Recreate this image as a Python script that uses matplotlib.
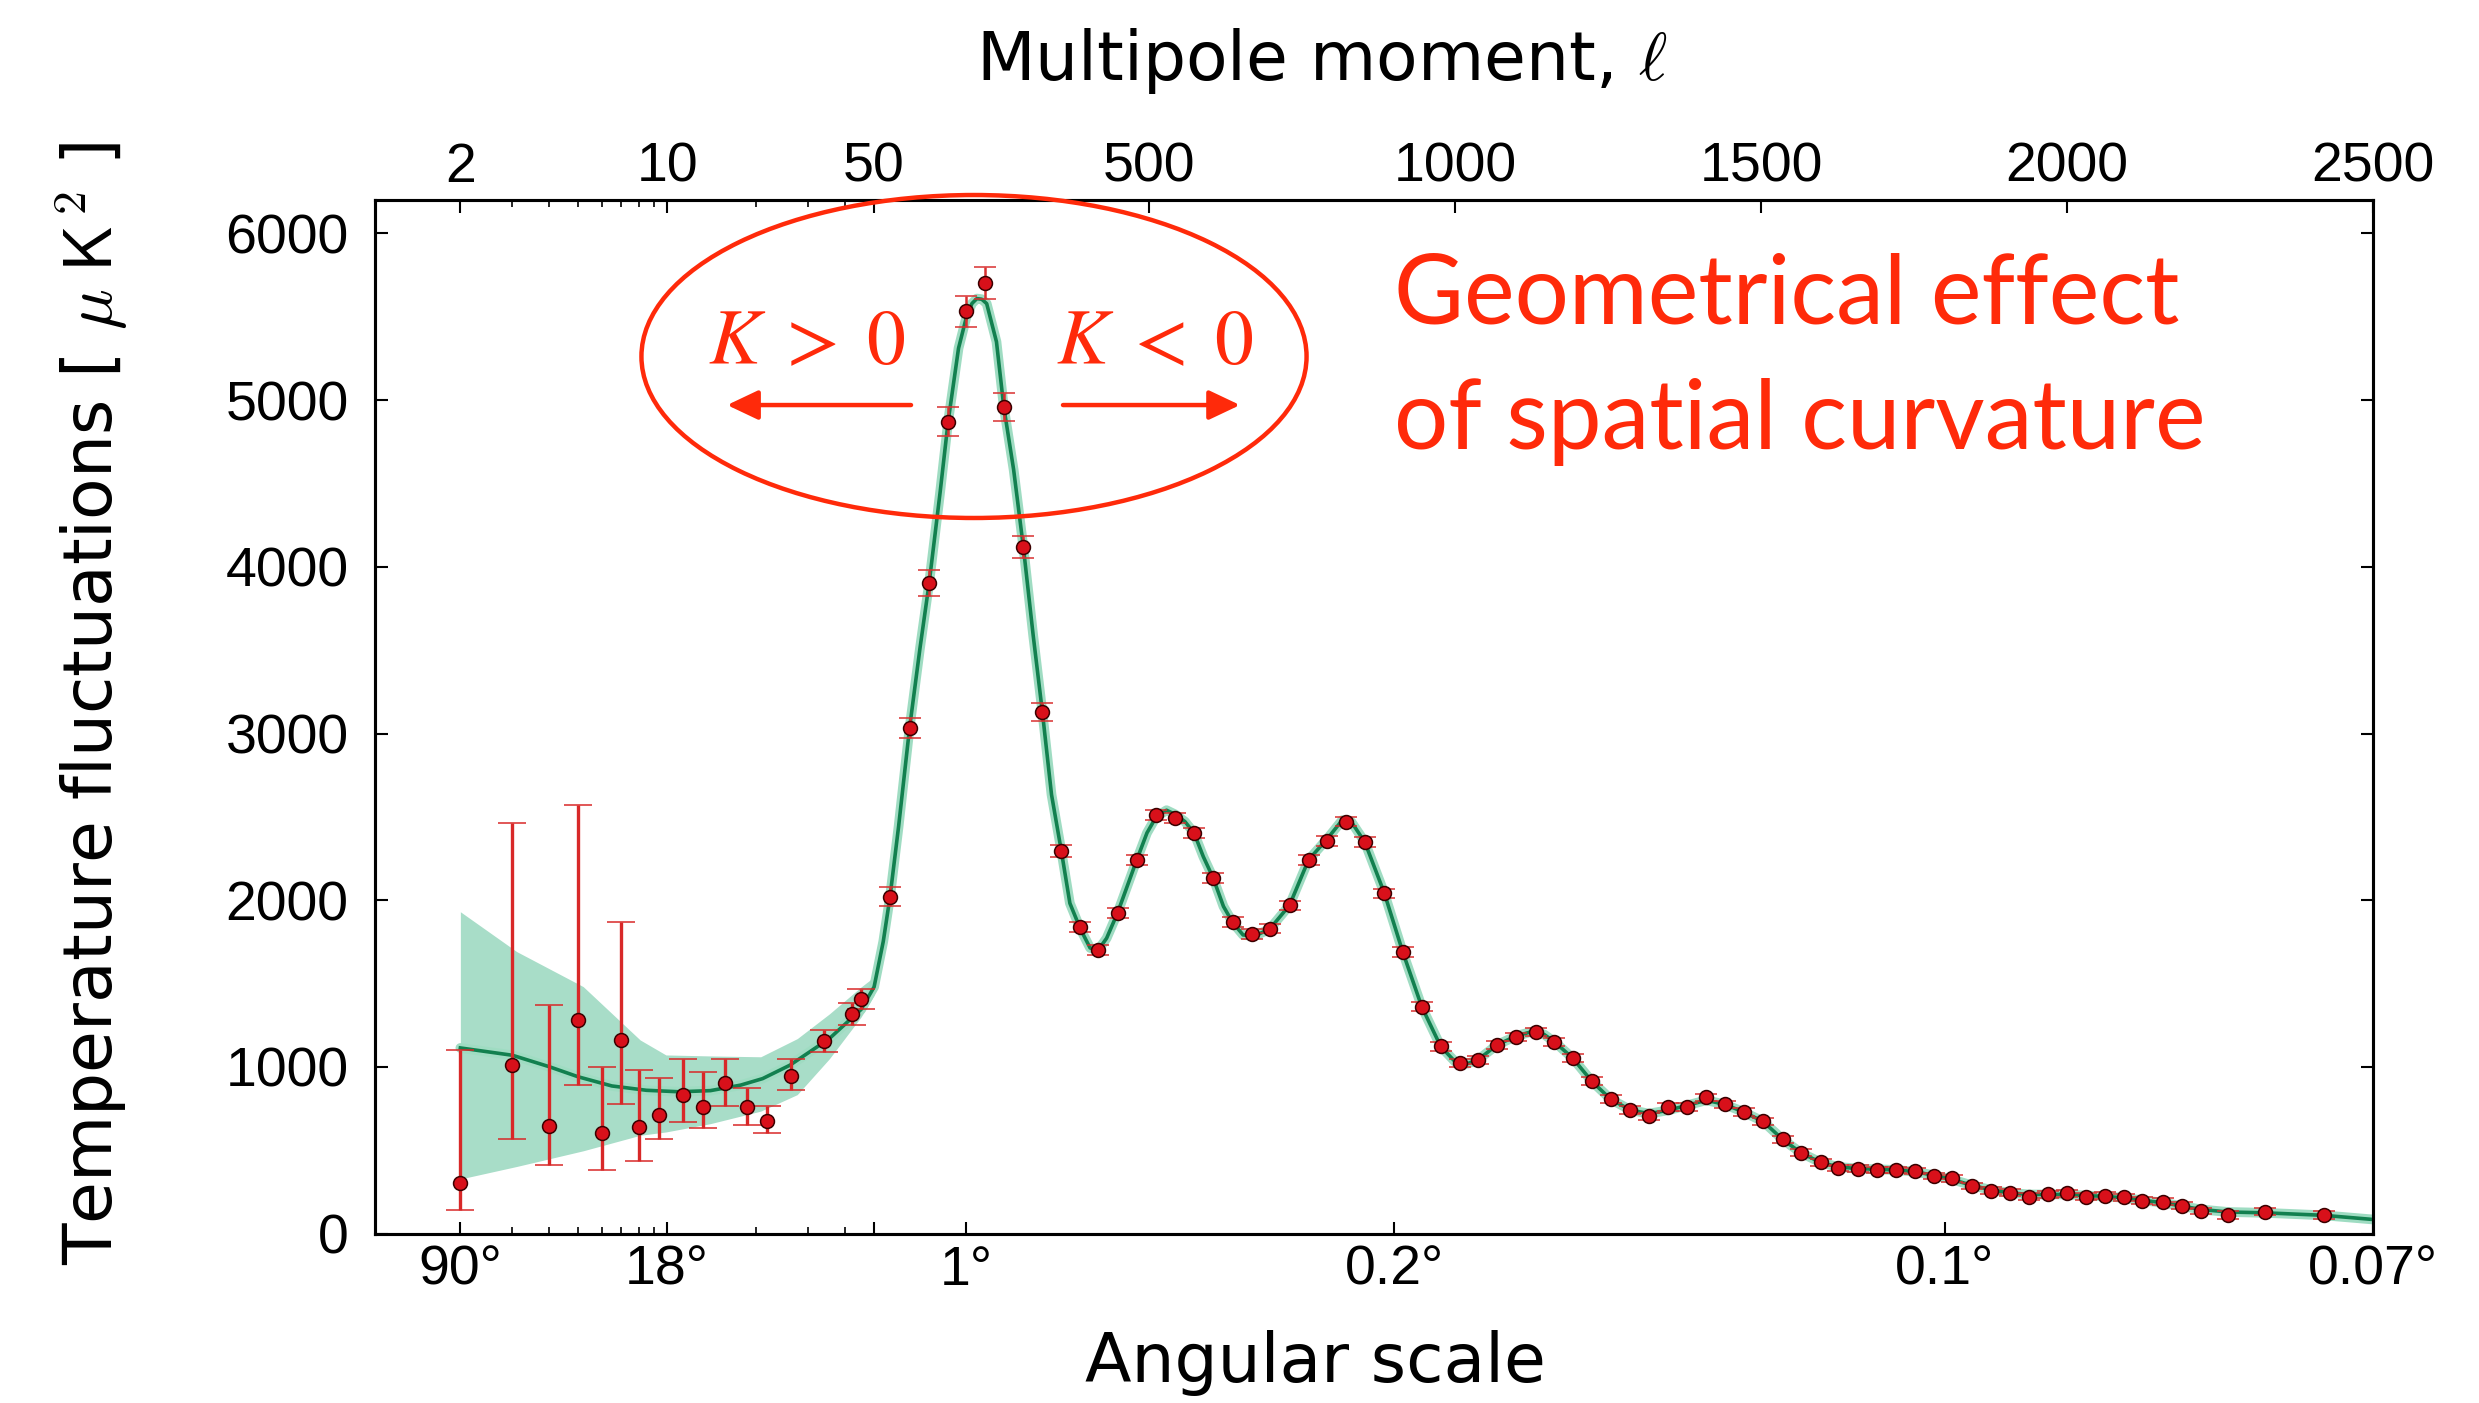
"""Planck TT power spectrum with the curvature annotation.

Hybrid x-axis: logarithmic in multipole below l=50, linear above it.
"""
import numpy as np
import matplotlib
matplotlib.use("Agg")
import matplotlib.pyplot as plt
from matplotlib.patches import Ellipse

plt.rcParams['font.family'] = ['Liberation Sans', 'DejaVu Sans']

RED = '#ff2a0a'

# ----------------------------- data --------------------
# low-l points: asymmetric errors
low_ell = [2, 3, 4, 5, 6, 7, 8, 9.4, 11.3, 13.2, 15.7, 18.6, 21.7, 26.2, 33.8, 42, 45]
low_dl = [301, 1009, 646, 1283, 602, 1162, 640, 713, 834, 759, 901, 759, 678, 947,
          1157, 1320, 1405]
low_err_lo = [159, 439, 237, 390, 220, 382, 204, 143, 167, 127, 134, 108, 73, 86, 68, 66, 60]
low_err_hi = [802, 1453, 726, 1286, 399, 708, 342, 220, 215, 209, 148, 115, 89, 102, 67, 66, 61]

# binned high-l points
high_ell = [76, 108, 140, 171, 201, 232, 262, 294, 325, 356,
            387, 416, 448, 479, 511, 542, 573, 604, 636, 667,
            697, 729, 760, 791, 822, 852, 884, 914, 945, 976,
            1007, 1037, 1068, 1099, 1131, 1162, 1192, 1223, 1254, 1286,
            1316, 1348, 1379, 1410, 1440, 1471, 1503, 1535, 1565, 1597,
            1626, 1658, 1689, 1720, 1751, 1782, 1812, 1844, 1876, 1907,
            1937, 1969, 2000, 2031, 2062, 2092, 2123, 2156, 2188, 2219,
            2263, 2323, 2419]
high_dl = [2020, 3034, 3903, 4871, 5533, 5705, 4959, 4117, 3130, 2296,
           1837, 1703, 1925, 2239, 2510, 2491, 2403, 2135, 1867, 1798,
           1829, 1970, 2242, 2356, 2471, 2349, 2042, 1690, 1362, 1123,
           1024, 1043, 1132, 1180, 1208, 1151, 1052, 914, 806, 742,
           703, 760, 760, 818, 776, 730, 673, 565, 485, 427,
           393, 390, 382, 382, 376, 346, 332, 286, 258, 246,
           222, 236, 242, 222, 228, 218, 198, 192, 168, 136,
           112, 132, 112]
high_err = [57, 61, 80, 88, 92, 96, 82, 67, 52, 35,
            30, 30, 30, 30, 30, 30, 30, 30, 30, 30,
            28, 28, 28, 28, 28, 28, 28, 28, 28, 28,
            25, 25, 25, 25, 25, 25, 25, 25, 25, 25,
            22, 22, 22, 22, 22, 22, 22, 22, 22, 22,
            20, 20, 20, 20, 20, 20, 20, 20, 20, 20,
            20, 20, 20, 20, 20, 20, 20, 20, 20, 20,
            22, 22, 24]

# best-fit model curve
model_ell = [2, 3, 4, 5, 6.5, 8.5, 11, 14, 17.7, 21, 26, 35.3, 45.2, 50, 65, 76, 90,
             108, 125, 140, 158, 171, 188, 201, 210, 218, 226, 234, 250, 262, 278,
             294, 310, 325, 340, 356, 370, 387, 403, 416, 430, 448, 479, 496, 511,
             528, 542, 558, 573, 588, 604, 621, 636, 653, 672, 697, 729, 760, 791,
             815, 830, 852, 884, 914, 945, 976, 1000, 1020, 1037, 1068, 1099, 1125,
             1145, 1162, 1192, 1223, 1254, 1286, 1316, 1348, 1379, 1410, 1440, 1471,
             1503, 1535, 1565, 1597, 1626, 1660, 1720, 1751, 1782, 1812, 1844, 1876,
             1907, 1937, 1969, 2000, 2031, 2062, 2092, 2123, 2156, 2188, 2219, 2263,
             2323, 2419, 2500]
model_dl = [1114, 1070, 1001, 941, 886, 860, 851, 858, 891, 930, 1011, 1170, 1345, 1480,
            1753, 2020, 2441, 3034, 3512, 3903, 4450, 4871, 5311, 5500, 5580, 5609, 5605,
            5579, 5350, 4959, 4584, 4117, 3589, 3130, 2633, 2296, 1982, 1829, 1714, 1700,
            1772, 1925, 2239, 2404, 2500, 2540, 2515, 2472, 2403, 2262, 2135, 1963, 1867,
            1792, 1785, 1829, 1970, 2242, 2370, 2480, 2470, 2349, 2042, 1690, 1362, 1123,
            1030, 1020, 1043, 1132, 1185, 1212, 1195, 1151, 1052, 914, 806, 742, 720, 740,
            770, 800, 776, 730, 673, 565, 485, 427, 400, 390, 382, 372, 350, 325, 290, 262,
            245, 235, 235, 236, 228, 224, 215, 200, 186, 165, 145, 130, 125, 110, 85]

# cosmic-variance band at low l
band_ell = [2, 3.1, 5.2, 8.1, 9.9, 14, 20.7, 27.5, 35.3, 45.2, 50]
band_lo = [328, 403, 497, 590, 610, 660, 735, 834, 1049, 1300, 1430]
band_hi = [1931, 1692, 1482, 1162, 1072, 1066, 1061, 1170, 1318, 1480, 1540]

top_ticks = [2, 10, 50, 500, 1000, 1500, 2000, 2500]
top_labels = ['2', '10', '50', '500', '1000', '1500', '2000', '2500']
bottom_ticks = [2, 10, 50, 200, 900, 1800, 2500]
bottom_labels = ['90°', '18°', '', '1°', '0.2°', '0.1°', '0.07°']
minor_ticks = [3, 4, 5, 6, 7, 8, 9, 20, 30, 40]


# ----------------------------- hybrid scale ----------------------------------
DECADE = 483.7  # linear multipoles per log decade


def _fwd(ell):
    ell = np.asarray(ell, dtype=float)
    safe = np.clip(ell, 1e-3, None)
    return np.where(ell >= 50, ell - 50, DECADE * np.log10(safe / 50))


def _inv(u):
    u = np.asarray(u, dtype=float)
    return np.where(u >= 0, u + 50, 50 * 10 ** (np.minimum(u, 0) / DECADE))


def style_x(axis_obj, ticks, labels, pad):
    axis_obj.set_xscale('function', functions=(_fwd, _inv))
    axis_obj.set_xlim(1.03, 2500)
    axis_obj.set_xticks(ticks)
    axis_obj.set_xticklabels(labels)
    axis_obj.set_xticks(minor_ticks, minor=True)
    axis_obj.tick_params(axis='x', which='both', direction='in', labelsize=40, pad=pad)
    axis_obj.tick_params(axis='x', which='major', length=9, width=1.5)
    axis_obj.tick_params(axis='x', which='minor', length=5, width=1.2)


fig = plt.figure(figsize=(24.79, 14.03), dpi=100)
ax = fig.add_axes([0.1513, 0.1207, 0.806, 0.7367])

ax.fill_between(band_ell, band_lo, band_hi, color='#a8ddc8', lw=0, zorder=1)
ax.plot(model_ell, model_dl, color='#9fdcc2', lw=7, zorder=2, solid_capstyle='round')
ax.plot(model_ell, model_dl, color='#12804f', lw=2.6, zorder=3)

ax.errorbar(low_ell, low_dl, yerr=[low_err_lo, low_err_hi], fmt='o', ms=10,
            mfc='#d8101a', mec='#3a0000', mew=1.1, ecolor='#d82828', elinewidth=2.4,
            capsize=10, capthick=2.2, zorder=4)
ax.errorbar(high_ell, high_dl, yerr=high_err, fmt='o', ms=10,
            mfc='#d8101a', mec='#3a0000', mew=1.1, ecolor='#d83030', elinewidth=1.8,
            capsize=8, capthick=1.8, zorder=4)

style_x(ax, bottom_ticks, bottom_labels, pad=8)
ax.set_ylim(0, 6200)
ax.set_yticks([0, 1000, 2000, 3000, 4000, 5000, 6000])
ax.tick_params(axis='y', which='major', direction='in', length=9, width=1.5,
               labelsize=40, pad=19, right=True)
for sp in ax.spines.values():
    sp.set_linewidth(2.2)

top = ax.twiny()
style_x(top, top_ticks, top_labels, pad=4.5)
top.tick_params(axis='x', top=True, labeltop=True, bottom=False, labelbottom=False)
for sp in top.spines.values():
    sp.set_linewidth(2.2)

# ----------------------------- axis titles -----------------------------------
fig.text(0.5333, 0.9427, r'Multipole moment, $\ell$', fontsize=49, ha='center',
         va='baseline', family='DejaVu Sans', math_fontfamily='cm')
fig.text(0.5305, 0.0150, 'Angular scale', fontsize=49, ha='center', va='baseline',
         family='DejaVu Sans')
fig.text(0.0367, 0.4982, r'Temperature fluctuations [ $\mu\;\mathsf{K}^{\,2}$ ]',
         fontsize=49, rotation=90, ha='center', va='center', family='DejaVu Sans',
         math_fontfamily='cm')

# ----------------------------- annotation ------------------------------------
fig.patches.append(Ellipse((0.3929, 0.7459), 0.2683, 0.2302, transform=fig.transFigure,
                           fill=False, ec=RED, lw=3.2))
fig.text(0.2856, 0.7406, r'$K\;>\;0$', color=RED, fontsize=56, ha='left',
         va='baseline', math_fontfamily='stix')
fig.text(0.4260, 0.7406, r'$K\;<\;0$', color=RED, fontsize=56, ha='left',
         va='baseline', math_fontfamily='stix')
arrow = dict(arrowstyle='-|>,head_length=0.95,head_width=0.45', color=RED, lw=3.2,
             mutation_scale=20, shrinkA=0, shrinkB=0)
ax.annotate('', xy=(0.2933, 0.7113), xytext=(0.3675, 0.7113),
            xycoords='figure fraction', textcoords='figure fraction', arrowprops=arrow)
ax.annotate('', xy=(0.5002, 0.7113), xytext=(0.4288, 0.7113),
            xycoords='figure fraction', textcoords='figure fraction', arrowprops=arrow)

fig.text(0.5623, 0.7691, 'Geometrical effect', color=RED, fontsize=69,
         family='Lato', ha='left', va='baseline')
fig.text(0.5623, 0.6800, 'of spatial curvature', color=RED, fontsize=69,
         family='Lato', ha='left', va='baseline')

fig.savefig('out.png', dpi=100)
